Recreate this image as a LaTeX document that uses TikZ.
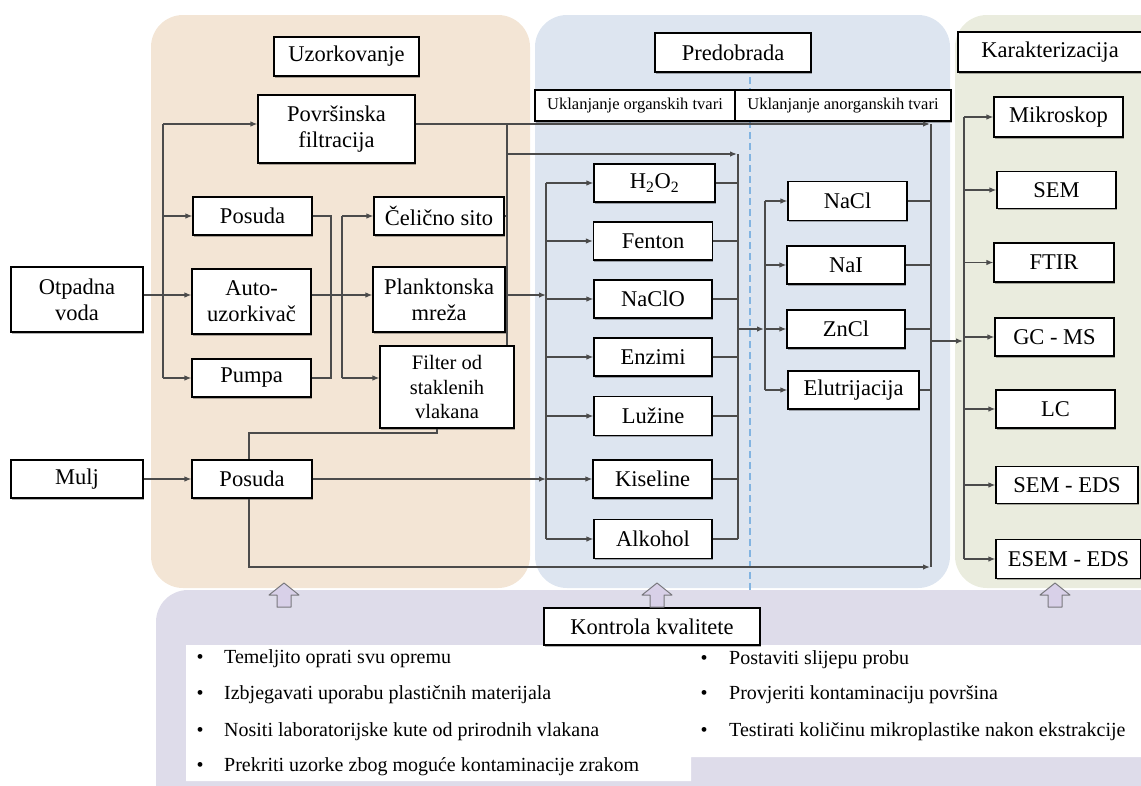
\documentclass[tikz,border=0pt]{standalone}
\usepackage{fontspec}
\setmainfont{Liberation Serif}
\usetikzlibrary{arrows.meta,shadows}
\definecolor{tanbg}{RGB}{243,229,213}
\definecolor{bluebg}{RGB}{221,229,240}
\definecolor{greenbg}{RGB}{234,236,222}
\definecolor{lavbg}{RGB}{222,220,234}
\definecolor{linec}{RGB}{75,75,75}
\definecolor{dashc}{RGB}{130,180,225}
\definecolor{uparrf}{RGB}{216,208,232}
\definecolor{uparrd}{RGB}{120,120,125}
\begin{document}
\begin{tikzpicture}[x=1pt,y=-1pt,
  box/.style={draw=black, line width=1.1pt, fill=white, align=center, inner sep=0pt,
    font=\fontsize{22.5}{26}\selectfont,
    drop shadow={shadow xshift=0.8pt, shadow yshift=-1.6pt, fill=black, opacity=0.3}},
  ln/.style={draw=linec, line width=1.3pt},
  arr/.style={ln, -{Latex[length=7pt,width=5.5pt]}},
  bul/.style={inner sep=0pt, font=\fontsize{20}{22}\selectfont},
  btxt/.style={anchor=west, inner sep=0pt, font=\fontsize{20}{22}\selectfont},
  panel/.style={rounded corners=32pt},
  uparr/.style={fill=uparrf, draw=uparrd, line width=1pt, line join=round}
]
\useasboundingbox (0,0) rectangle (1141,785);
\clip (0,0) rectangle (1141,785);
% background panels
\fill[lavbg, panel] (156,590) rectangle (1200,840);
\fill[tanbg, panel] (151,15) rectangle (530,588);
\fill[bluebg, panel] (535,15) rectangle (950,588);
\fill[greenbg, panel] (955,15) rectangle (1200,588);
% white list area
\fill[white] (186,645) -- (1141,645) -- (1141,757) -- (691,757) -- (691,781) -- (186,781) -- cycle;
% dashed separator
\draw[dashc, line width=1.3pt, dash pattern=on 7pt off 4pt] (750,77) -- (750,590);

% ---------- nodes ----------
\node[box, minimum width=145pt, minimum height=39pt] (uzo) at (346.5,56.5) {Uzorkovanje};
\node[box, minimum width=156pt, minimum height=39pt] (pre) at (733,52.5) {Predobrada};
\node[box, minimum width=184pt, minimum height=40pt] (kar) at (1050,52) {Karakterizacija};
\node[box, minimum width=200pt, minimum height=31pt, font=\fontsize{16.5}{18}\selectfont] (uko) at (635,105.5) {Uklanjanje organskih tvari};
\node[box, minimum width=216pt, minimum height=31pt, font=\fontsize{16.5}{18}\selectfont] (uka) at (843,105.5) {Uklanjanje anorganskih tvari};

\node[box, minimum width=132pt, minimum height=65pt] (otp) at (77,299.5) {Otpadna\\voda};
\node[box, minimum width=132pt, minimum height=38pt] (mulj) at (77,479) {Mulj};
\node[box, minimum width=157pt, minimum height=68pt] (pov) at (336.5,129) {Površinska\\filtracija};
\node[box, minimum width=119pt, minimum height=38pt] (pos1) at (252.5,216) {Posuda};
\node[box, minimum width=119pt, minimum height=65pt] (auto) at (251.5,301.5) {Auto-\\uzorkivač};
\node[box, minimum width=119pt, minimum height=38pt] (pump) at (251.5,378) {Pumpa};
\node[box, minimum width=130pt, minimum height=38pt] (celi) at (439,216) {Čelično sito};
\node[box, minimum width=132pt, minimum height=65pt] (plank) at (439,299.5) {Planktonska\\mreža};
\node[box, minimum width=134pt, minimum height=82pt, font=\fontsize{20.5}{24.5}\selectfont] (filt) at (447,387) {Filter od\\staklenih\\vlakana};
\node[box, minimum width=120pt, minimum height=38pt] (pos2) at (252,479) {Posuda};

\node[box, minimum width=121pt, minimum height=38pt] (h2o2) at (654.5,183) {H\textsubscript{2}O\textsubscript{2}};
\node[box, minimum width=119pt, minimum height=38pt] (fent) at (653,241) {Fenton};
\node[box, minimum width=118pt, minimum height=38pt] (nclo) at (653,299) {NaClO};
\node[box, minimum width=118pt, minimum height=38pt] (enz) at (653,357) {Enzimi};
\node[box, minimum width=118pt, minimum height=39pt] (luz) at (653,416) {Lužine};
\node[box, minimum width=119pt, minimum height=38pt] (kis) at (652.5,479) {Kiseline};
\node[box, minimum width=118pt, minimum height=39pt] (alk) at (653,539) {Alkohol};

\node[box, minimum width=119pt, minimum height=39pt] (nacl) at (847.5,201) {NaCl};
\node[box, minimum width=118pt, minimum height=38pt] (nai) at (846,265) {NaI};
\node[box, minimum width=118pt, minimum height=38pt] (zncl) at (846,329) {ZnCl};
\node[box, minimum width=131pt, minimum height=38pt] (elu) at (853.5,390) {Elutrijacija};

\node[box, minimum width=129pt, minimum height=40pt] (mik) at (1058.5,117) {Mikroskop};
\node[box, minimum width=119pt, minimum height=37pt] (sem) at (1056.5,190) {SEM};
\node[box, minimum width=120pt, minimum height=39pt] (ftir) at (1054,262.5) {FTIR};
\node[box, minimum width=119pt, minimum height=38pt] (gcms) at (1054.5,337) {GC - MS};
\node[box, minimum width=119pt, minimum height=38pt] (lc) at (1055.5,409) {LC};
\node[box, minimum width=142pt, minimum height=37pt] (semeds) at (1067,485) {SEM - EDS};
\node[box, minimum width=145pt, minimum height=39pt] (esem) at (1068.5,559) {ESEM - EDS};

\node[box, minimum width=216pt, minimum height=37pt, drop shadow={opacity=0}] (kk) at (652,626.5) {Kontrola kvalitete};

% ---------- junction coordinates ----------
\coordinate (jA) at (163,124);
\coordinate (jB) at (163,378);
\coordinate (jC) at (331,216);
\coordinate (jD) at (331,378);
\coordinate (jE) at (342,216);
\coordinate (jF) at (342,378);
\coordinate (jG) at (507,124);
\coordinate (jH) at (507,154);
\coordinate (jI) at (546,183);
\coordinate (jJ) at (546,539);
\coordinate (jK) at (738,154);
\coordinate (jL) at (738,539);
\coordinate (jM) at (765,201);
\coordinate (jN) at (765,390);
\coordinate (jO) at (931,124);
\coordinate (jP) at (931,567);
\coordinate (jQ) at (964,117);
\coordinate (jR) at (964,559);
\coordinate (jS) at (249,433);
\coordinate (jT) at (249,567);

% ---------- connectors ----------
\draw[ln] (jA) -- (jB);
\draw[arr] (jA) -- (pov.west |- jA);
\draw[arr] (jA |- pos1.west) -- (pos1.west);
\draw[arr] (otp.east |- 0,295) -- (auto.west |- 0,295);
\draw[arr] (jB) -- (pump.west |- jB);
\draw[ln] (pos1.east) -- (jC) -- (jD) -- (pump.east |- jD);
\draw[arr] (auto.east |- 0,295) -- (plank.west |- 0,295);
\draw[ln] (jE) -- (jF);
\draw[arr] (jE) -- (celi.west);
\draw[arr] (jF) -- (filt.west |- jF);
\draw[arr] (pov.east |- jA) -- ([xshift=-1pt]jO);
\draw[ln] (jG) -- (jG |- filt.north);
\draw[ln] (celi.east) -- (jG |- celi.east);
\draw[arr] (plank.east |- 0,295) -- (jI |- 0,295);
\draw[arr] (jH) -- ([xshift=-1pt]jK);
\draw[ln] (filt.south -| 437,0) -- (437,433) -- (jS) -- (jS |- pos2.north);
\draw[arr] (mulj.east) -- (pos2.west);
\draw[arr] (pos2.east) -- (jI |- pos2.east);
\draw[arr] (jS |- pos2.south) -- (jT) -- ([xshift=-1pt]jP);
% organic distribution and collection
\draw[ln] (jI) -- (jJ);
\foreach \n in {h2o2,fent,nclo,enz,luz,kis,alk} {
  \draw[arr] (jI |- \n.west) -- (\n.west);
  \draw[ln] (\n.east) -- (jK |- \n.east);
}
\draw[ln] (jK) -- (jL);
\draw[arr] (jK |- 0,329) -- ([xshift=-1pt]jM |- 0,329);
% inorganic
\draw[ln] (jM) -- (jN);
\foreach \n in {nacl,nai,zncl,elu} {
  \draw[arr] (jM |- \n.west) -- (\n.west);
  \draw[ln] (\n.east) -- (jO |- \n.east);
}
\draw[ln] (jO) -- (jP);
\draw[arr] (jO |- 0,341) -- ([xshift=-1pt]jQ |- 0,341);
% characterisation
\draw[ln] (jQ) -- (jR);
\foreach \n in {mik,sem,ftir,gcms,lc,semeds,esem} {
  \draw[arr] (jQ |- \n.west) -- (\n.west);
}

% ---------- up arrows ----------
\foreach \cx in {284, 657, 1055} {
  \draw[uparr] (\cx,583) -- (\cx+15,595) -- (\cx+7,595) -- (\cx+7,607) -- (\cx-7,607) -- (\cx-7,595) -- (\cx-15,595) -- cycle;
}

% ---------- quality-control list ----------
\node[bul] (b1) at (200,659) {•};
\node[btxt] (q1) at (224,659) {Temeljito oprati svu opremu};
\node[bul] (b2) at (200,695) {•};
\node[btxt] (q2) at (224,695) {Izbjegavati uporabu plastičnih materijala};
\node[bul] (b3) at (200,732) {•};
\node[btxt] (q3) at (224,732) {Nositi laboratorijske kute od prirodnih vlakana};
\node[bul] (b4) at (200,767) {•};
\node[btxt] (q4) at (224,767) {Prekriti uzorke zbog moguće kontaminacije zrakom};
\node[bul] (b5) at (704,660) {•};
\node[btxt] (q5) at (729,660) {Postaviti slijepu probu};
\node[bul] (b6) at (704,695) {•};
\node[btxt] (q6) at (729,695) {Provjeriti kontaminaciju površina};
\node[bul] (b7) at (704,732) {•};
\node[btxt] (q7) at (729,732) {Testirati količinu mikroplastike nakon ekstrakcije};
\end{tikzpicture}
\end{document}
